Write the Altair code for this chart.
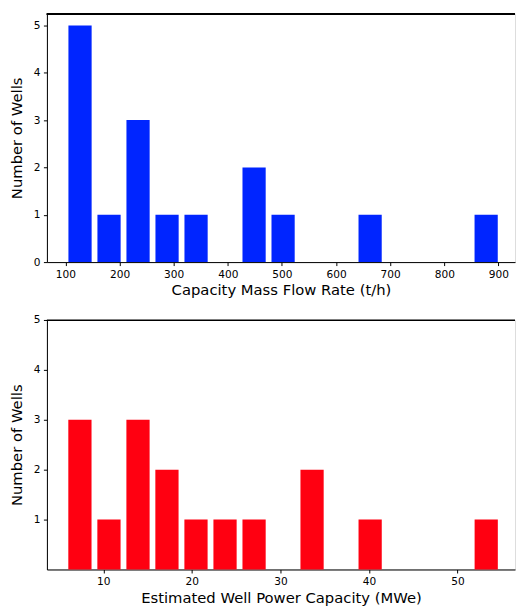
import altair as alt
import pandas as pd

# Top histogram: capacity mass flow rate (t/h)
flow_bin_left = [100.2, 153.8, 207.4, 261.0, 314.6, 368.2, 421.8, 475.4,
                 529.0, 582.6, 636.2, 689.8, 743.4, 797.0, 850.6]
flow_bin_width = 53.6
flow_counts = [5, 1, 3, 1, 1, 0, 2, 1, 0, 0, 1, 0, 0, 0, 1]
flow_ticks = [100, 200, 300, 400, 500, 600, 700, 800, 900]

# Bottom histogram: estimated well power capacity (MWe)
power_bin_left = [5.72, 9.00, 12.28, 15.55, 18.83, 22.11, 25.39, 28.67,
                  31.94, 35.22, 38.50, 41.78, 45.06, 48.33, 51.61]
power_bin_width = 3.278
power_counts = [3, 1, 3, 2, 1, 1, 1, 0, 2, 0, 1, 0, 0, 0, 1]
power_ticks = [10, 20, 30, 40, 50]

RW = 0.8  # relative bar width
FONT = "DejaVu Sans"
W = 469


def make_df(lefts, width, counts):
    return pd.DataFrame({
        "x0": [l + width * (1 - RW) / 2 for l in lefts],
        "x1": [l + width * (1 + RW) / 2 for l in lefts],
        "count": counts,
    })


def panel(df, color, xdomain, xticks, xtitle, ydomain, yticks, height):
    axis_common = dict(domainColor="black", tickColor="black", tickSize=3.5,
                       labelColor="black", labelFontSize=10.6, labelFont=FONT,
                       titleFont=FONT, titleFontSize=14.8, titleFontWeight="normal",
                       titleColor="black", grid=False, labelPadding=3.5)
    bars = alt.Chart(df).transform_filter("datum.count > 0").mark_bar(
        color=color, stroke=None
    ).encode(
        x=alt.X("x0:Q", scale=alt.Scale(domain=xdomain, nice=False, zero=False),
                axis=alt.Axis(values=xticks, title=xtitle, titlePadding=3, **axis_common)),
        x2="x1:Q",
        y=alt.Y("count:Q", scale=alt.Scale(domain=ydomain, nice=False),
                axis=alt.Axis(values=yticks, title="Number of Wells", titlePadding=9,
                              format="d", **axis_common)),
        y2=alt.datum(0),
    )
    border = alt.Chart(df).mark_rule(color="black", strokeWidth=1).encode(
        x=alt.value(0), x2=alt.value(W), y=alt.value(0.5)
    )
    return alt.layer(bars, border).properties(width=W, height=height)


top = panel(make_df(flow_bin_left, flow_bin_width, flow_counts), "#0025FF",
            [65.8, 930.7], flow_ticks, "Capacity Mass Flow Rate (t/h)",
            [0, 5.25], [0, 1, 2, 3, 4, 5], 249)
bottom = panel(make_df(power_bin_left, power_bin_width, power_counts), "#FF0011",
               [3.63, 56.5], power_ticks, "Estimated Well Power Capacity (MWe)",
               [0, 5], [1, 2, 3, 4, 5], 250)

chart = alt.vconcat(top, bottom, spacing=58, bounds="flush").properties(
    padding={"left": 8, "top": 12, "right": 0, "bottom": 0}
).configure_view(strokeWidth=0).configure(background="white")

chart.save("out.html", embed_options={"renderer": "svg", "actions": False})
